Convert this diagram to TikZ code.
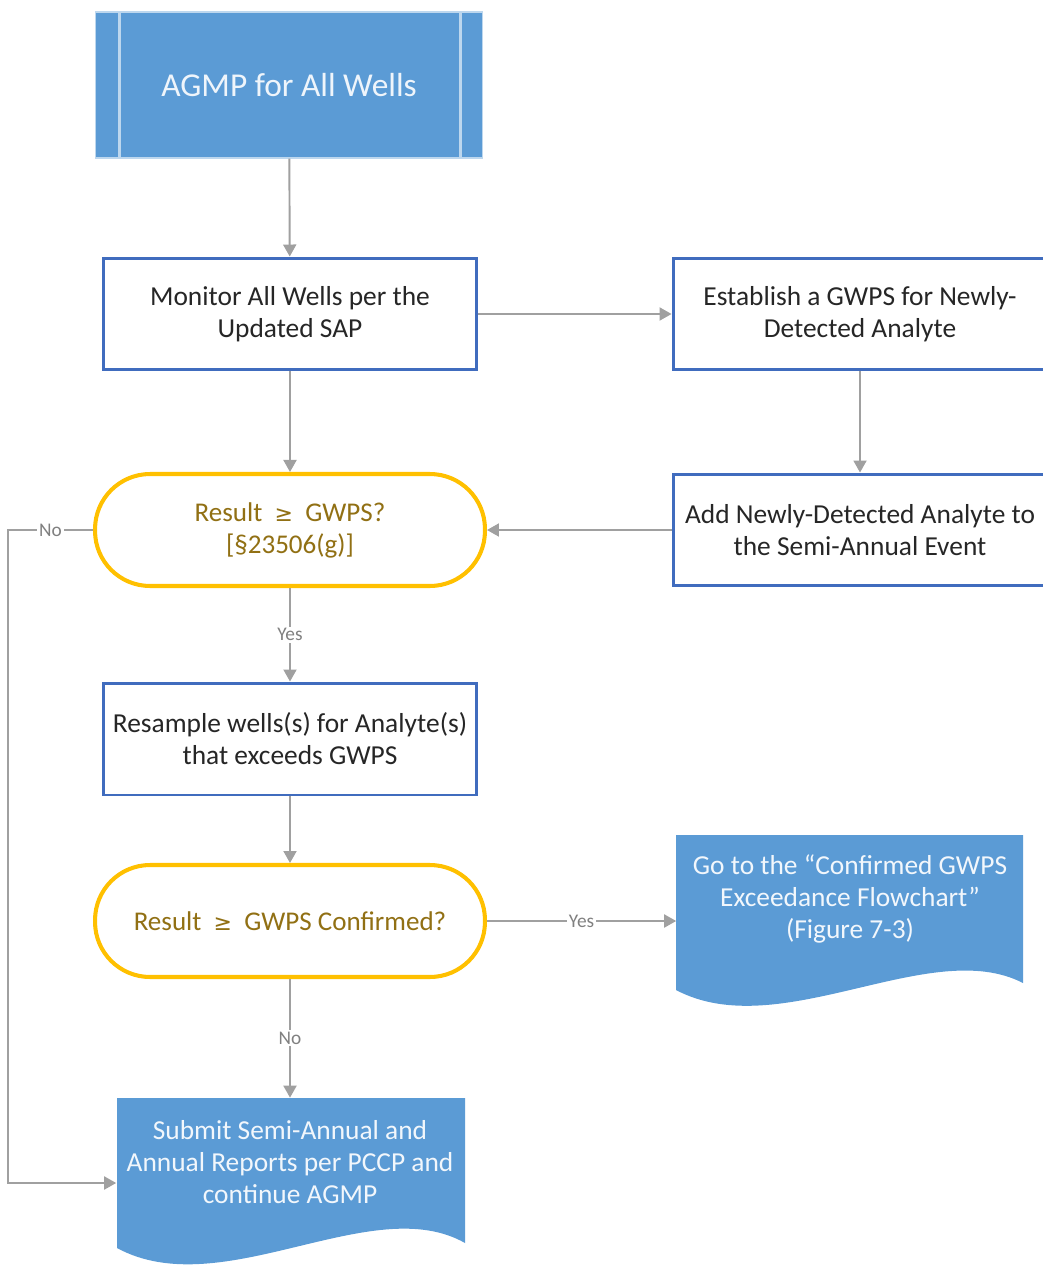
\documentclass[tikz,border=0pt]{standalone}
\usepackage{fontspec}
\setmainfont{Carlito}
\newfontfamily\symfont{DejaVu Sans}
\usetikzlibrary{arrows.meta}
\definecolor{boxblue}{RGB}{64,108,190}
\definecolor{docblue}{RGB}{91,155,213}
\definecolor{lightblue}{RGB}{189,215,238}
\definecolor{decgold}{RGB}{255,192,0}
\definecolor{dectext}{RGB}{145,112,20}
\definecolor{linegray}{RGB}{160,160,160}
\definecolor{labgray}{RGB}{128,128,128}

\begin{document}
\begin{tikzpicture}[x=0.02cm,y=-0.02cm,
		procbox/.style={draw=boxblue,line width=1.7pt,fill=white,minimum width=7.48cm,minimum height=2.24cm,align=center,text=black!85,font=\fontsize{15.6}{18.2}\selectfont},
		decision/.style={draw=decgold,line width=2.3pt,fill=white,rounded corners=1.1cm,minimum width=7.8cm,minimum height=2.24cm,align=center,text=dectext,font=\fontsize{15.4}{18.2}\selectfont},
		doctext/.style={minimum width=6.94cm,minimum height=2.56cm,align=center,text=white!92!docblue,font=\fontsize{15.6}{18.2}\selectfont},
		flow/.style={draw=linegray,line width=1.1pt,-{Triangle[length=0.24cm,width=0.26cm]}},
		lab/.style={fill=white,text=labgray,inner sep=1pt,font=\fontsize{11}{13}\selectfont}]
			\useasboundingbox (0,0) rectangle (1042,1266);
			% start box
			\node[fill=docblue,draw=lightblue,line width=0.6pt,minimum width=7.76cm,minimum height=2.92cm,text=white!90!docblue,font=\fontsize{19}{23}\selectfont] (agmp) at (289,85) {AGMP for All Wells};
			\draw[lightblue,line width=1.2pt] ([xshift=0.5cm]agmp.north west) -- ([xshift=0.5cm]agmp.south west) ([xshift=-0.46cm]agmp.north east) -- ([xshift=-0.46cm]agmp.south east);
			\node[procbox] (mon) at (290,314) {Monitor All Wells per the\\Updated SAP};
			\node[procbox] (est) at (860,314) {Establish a GWPS for Newly-\\Detected Analyte};
			\node[procbox] (add) at (860,530) {Add Newly-Detected Analyte to\\the Semi-Annual Event};
			\node[decision] (dec1) at (290,530) {Result\ \ {\symfont\fontsize{12.5}{18.2}\selectfont ≥}\ \ GWPS?\\{}[§23506(g)]};
			\node[procbox] (resamp) at (290,739) {Resample wells(s) for Analyte(s)\\that exceeds GWPS};
			\node[decision] (dec2) at (290,921) {Result\ \ {\symfont\fontsize{12.5}{18.2}\selectfont ≥}\ \ GWPS Confirmed?};
			% document shapes
			\fill[docblue] (676,835) -- (1023,835) -- (1023,983) .. controls (930,935) and (780,1045) .. (676,990) -- cycle;
			\fill[docblue] (117,1098) -- (465,1098) -- (465,1243) .. controls (372,1190) and (222,1305) .. (117,1248) -- cycle;
			\node[doctext] (goto) at (850,899) {Go to the “Confirmed GWPS\\Exceedance Flowchart”\\(Figure 7-3)};
			\node[doctext] (subm) at (290,1162) {Submit Semi-Annual and\\Annual Reports per PCCP and\\continue AGMP};
			% connectors
			\draw[flow] (agmp) -- (mon);
			\draw[flow] (mon) -- (est);
			\draw[flow] (mon) -- (dec1);
			\draw[flow] (est) -- (add);
			\draw[flow] (add) -- (dec1);
			\draw[flow] (dec1) -- node[lab]{Yes} (resamp);
			\draw[flow] (resamp) -- (dec2);
			\draw[flow] (dec2) -- node[lab]{Yes} (goto.west |- dec2.east);
			\draw[flow] (dec2) -- node[lab]{No} (subm);
			\draw[flow] (dec1.west) -- node[lab]{No} ++(-85,0) |- ([yshift=-0.42cm]subm.west);
		\end{tikzpicture}
\end{document}
